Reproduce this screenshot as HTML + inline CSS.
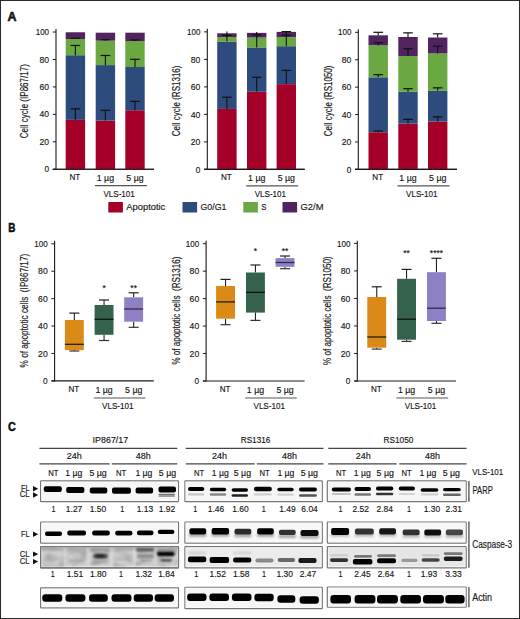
<!DOCTYPE html><html><head><meta charset="utf-8"><style>html,body{margin:0;padding:0;background:#fff;width:520px;height:619px;overflow:hidden}body{position:relative;font-family:"Liberation Sans", sans-serif}</style></head><body><svg width="520" height="619" viewBox="0 0 520 619" style="position:absolute;left:0;top:0;font-family:'Liberation Sans', sans-serif">
<defs><filter id="b1" x="-20%" y="-80%" width="140%" height="260%"><feGaussianBlur stdDeviation="0.65"/></filter><filter id="b2" x="-20%" y="-80%" width="140%" height="260%"><feGaussianBlur stdDeviation="1.1"/></filter><filter id="b3" x="-20%" y="-80%" width="140%" height="260%"><feGaussianBlur stdDeviation="1.6"/></filter></defs>
<rect x="0" y="0" width="520" height="619" fill="#fff"/>
<text x="7.50" y="20.60" font-size="12.8" text-anchor="start" textLength="9.0" lengthAdjust="spacingAndGlyphs" font-weight="bold" fill="#111" stroke="#111" stroke-width="0.55">A</text>
<line x1="56.00" y1="29.00" x2="56.00" y2="169.80" stroke="#1a1a1a" stroke-width="1.1"/>
<line x1="52.80" y1="169.30" x2="154.00" y2="169.30" stroke="#1a1a1a" stroke-width="1.1"/>
<line x1="52.80" y1="169.30" x2="56.00" y2="169.30" stroke="#1a1a1a" stroke-width="1.0"/>
<text x="49.10" y="172.40" font-size="9.6" text-anchor="end" textLength="4.6" lengthAdjust="spacingAndGlyphs" fill="#151515" stroke="#151515" stroke-width="0.15">0</text>
<line x1="52.80" y1="141.84" x2="56.00" y2="141.84" stroke="#1a1a1a" stroke-width="1.0"/>
<text x="49.10" y="144.94" font-size="9.6" text-anchor="end" textLength="9.6" lengthAdjust="spacingAndGlyphs" fill="#151515" stroke="#151515" stroke-width="0.15">20</text>
<line x1="52.80" y1="114.38" x2="56.00" y2="114.38" stroke="#1a1a1a" stroke-width="1.0"/>
<text x="49.10" y="117.48" font-size="9.6" text-anchor="end" textLength="9.6" lengthAdjust="spacingAndGlyphs" fill="#151515" stroke="#151515" stroke-width="0.15">40</text>
<line x1="52.80" y1="86.92" x2="56.00" y2="86.92" stroke="#1a1a1a" stroke-width="1.0"/>
<text x="49.10" y="90.02" font-size="9.6" text-anchor="end" textLength="9.6" lengthAdjust="spacingAndGlyphs" fill="#151515" stroke="#151515" stroke-width="0.15">60</text>
<line x1="52.80" y1="59.46" x2="56.00" y2="59.46" stroke="#1a1a1a" stroke-width="1.0"/>
<text x="49.10" y="62.56" font-size="9.6" text-anchor="end" textLength="9.6" lengthAdjust="spacingAndGlyphs" fill="#151515" stroke="#151515" stroke-width="0.15">80</text>
<line x1="52.80" y1="32.00" x2="56.00" y2="32.00" stroke="#1a1a1a" stroke-width="1.0"/>
<text x="49.10" y="35.10" font-size="9.6" text-anchor="end" textLength="13.4" lengthAdjust="spacingAndGlyphs" fill="#151515" stroke="#151515" stroke-width="0.15">100</text>
<rect x="65.70" y="119.87" width="19.40" height="49.43" fill="#a50028"/>
<rect x="65.70" y="55.20" width="19.40" height="64.67" fill="#2e4b7d"/>
<rect x="65.70" y="39.00" width="19.40" height="16.20" fill="#6aa842"/>
<rect x="65.70" y="32.27" width="19.40" height="6.73" fill="#52245f"/>
<line x1="75.40" y1="119.87" x2="75.40" y2="108.89" stroke="#111" stroke-width="1.1"/>
<line x1="70.60" y1="108.89" x2="80.20" y2="108.89" stroke="#111" stroke-width="1.2"/>
<line x1="75.40" y1="55.20" x2="75.40" y2="45.46" stroke="#111" stroke-width="1.1"/>
<line x1="70.60" y1="45.46" x2="80.20" y2="45.46" stroke="#111" stroke-width="1.2"/>
<line x1="75.40" y1="39.00" x2="75.40" y2="38.32" stroke="#111" stroke-width="1.1"/>
<line x1="70.60" y1="38.32" x2="80.20" y2="38.32" stroke="#111" stroke-width="1.2"/>
<rect x="95.70" y="120.56" width="19.40" height="48.74" fill="#a50028"/>
<rect x="95.70" y="65.09" width="19.40" height="55.47" fill="#2e4b7d"/>
<rect x="95.70" y="40.65" width="19.40" height="24.44" fill="#6aa842"/>
<rect x="95.70" y="32.69" width="19.40" height="7.96" fill="#52245f"/>
<line x1="105.40" y1="120.56" x2="105.40" y2="110.26" stroke="#111" stroke-width="1.1"/>
<line x1="100.60" y1="110.26" x2="110.20" y2="110.26" stroke="#111" stroke-width="1.2"/>
<line x1="105.40" y1="65.09" x2="105.40" y2="55.48" stroke="#111" stroke-width="1.1"/>
<line x1="100.60" y1="55.48" x2="110.20" y2="55.48" stroke="#111" stroke-width="1.2"/>
<line x1="105.40" y1="40.65" x2="105.40" y2="39.69" stroke="#111" stroke-width="1.1"/>
<line x1="100.60" y1="39.69" x2="110.20" y2="39.69" stroke="#111" stroke-width="1.2"/>
<rect x="125.30" y="110.26" width="19.40" height="59.04" fill="#a50028"/>
<rect x="125.30" y="67.01" width="19.40" height="43.25" fill="#2e4b7d"/>
<rect x="125.30" y="41.06" width="19.40" height="25.95" fill="#6aa842"/>
<rect x="125.30" y="32.69" width="19.40" height="8.38" fill="#52245f"/>
<line x1="135.00" y1="110.26" x2="135.00" y2="101.34" stroke="#111" stroke-width="1.1"/>
<line x1="130.20" y1="101.34" x2="139.80" y2="101.34" stroke="#111" stroke-width="1.2"/>
<line x1="135.00" y1="67.01" x2="135.00" y2="59.32" stroke="#111" stroke-width="1.1"/>
<line x1="130.20" y1="59.32" x2="139.80" y2="59.32" stroke="#111" stroke-width="1.2"/>
<line x1="135.00" y1="41.06" x2="135.00" y2="39.96" stroke="#111" stroke-width="1.1"/>
<line x1="130.20" y1="39.96" x2="139.80" y2="39.96" stroke="#111" stroke-width="1.2"/>
<line x1="52.80" y1="169.30" x2="154.00" y2="169.30" stroke="#1a1a1a" stroke-width="1.1"/>
<text x="74.90" y="180.10" font-size="9.2" text-anchor="middle" textLength="10.8" lengthAdjust="spacingAndGlyphs" fill="#151515" stroke="#151515" stroke-width="0.15">NT</text>
<text x="105.40" y="180.60" font-size="9.4" text-anchor="middle" textLength="17.3" lengthAdjust="spacingAndGlyphs" fill="#151515" stroke="#151515" stroke-width="0.15">1 µg</text>
<text x="135.00" y="180.60" font-size="9.4" text-anchor="middle" textLength="17.3" lengthAdjust="spacingAndGlyphs" fill="#151515" stroke="#151515" stroke-width="0.15">5 µg</text>
<line x1="94.90" y1="185.60" x2="146.90" y2="185.60" stroke="#555" stroke-width="1.2"/>
<text x="119.10" y="196.60" font-size="9.5" text-anchor="middle" textLength="31.4" lengthAdjust="spacingAndGlyphs" fill="#151515" stroke="#151515" stroke-width="0.15">VLS-101</text>
<text transform="translate(28.40,101.20) rotate(-90)" x="0" y="0" font-size="10.5" text-anchor="middle" textLength="74.2" lengthAdjust="spacingAndGlyphs" fill="#151515" stroke="#151515" stroke-width="0.15">Cell cycle (IP867/17)</text>
<line x1="207.30" y1="28.80" x2="207.30" y2="169.90" stroke="#1a1a1a" stroke-width="1.1"/>
<line x1="204.10" y1="169.40" x2="304.60" y2="169.40" stroke="#1a1a1a" stroke-width="1.1"/>
<line x1="204.10" y1="169.40" x2="207.30" y2="169.40" stroke="#1a1a1a" stroke-width="1.0"/>
<text x="200.40" y="172.50" font-size="9.6" text-anchor="end" textLength="4.6" lengthAdjust="spacingAndGlyphs" fill="#151515" stroke="#151515" stroke-width="0.15">0</text>
<line x1="204.10" y1="141.90" x2="207.30" y2="141.90" stroke="#1a1a1a" stroke-width="1.0"/>
<text x="200.40" y="145.00" font-size="9.6" text-anchor="end" textLength="9.6" lengthAdjust="spacingAndGlyphs" fill="#151515" stroke="#151515" stroke-width="0.15">20</text>
<line x1="204.10" y1="114.40" x2="207.30" y2="114.40" stroke="#1a1a1a" stroke-width="1.0"/>
<text x="200.40" y="117.50" font-size="9.6" text-anchor="end" textLength="9.6" lengthAdjust="spacingAndGlyphs" fill="#151515" stroke="#151515" stroke-width="0.15">40</text>
<line x1="204.10" y1="86.90" x2="207.30" y2="86.90" stroke="#1a1a1a" stroke-width="1.0"/>
<text x="200.40" y="90.00" font-size="9.6" text-anchor="end" textLength="9.6" lengthAdjust="spacingAndGlyphs" fill="#151515" stroke="#151515" stroke-width="0.15">60</text>
<line x1="204.10" y1="59.40" x2="207.30" y2="59.40" stroke="#1a1a1a" stroke-width="1.0"/>
<text x="200.40" y="62.50" font-size="9.6" text-anchor="end" textLength="9.6" lengthAdjust="spacingAndGlyphs" fill="#151515" stroke="#151515" stroke-width="0.15">80</text>
<line x1="204.10" y1="31.90" x2="207.30" y2="31.90" stroke="#1a1a1a" stroke-width="1.0"/>
<text x="200.40" y="35.00" font-size="9.6" text-anchor="end" textLength="13.4" lengthAdjust="spacingAndGlyphs" fill="#151515" stroke="#151515" stroke-width="0.15">100</text>
<rect x="217.20" y="108.90" width="19.40" height="60.50" fill="#a50028"/>
<rect x="217.20" y="41.53" width="19.40" height="67.38" fill="#2e4b7d"/>
<rect x="217.20" y="36.99" width="19.40" height="4.54" fill="#6aa842"/>
<rect x="217.20" y="33.28" width="19.40" height="3.71" fill="#52245f"/>
<line x1="226.90" y1="108.90" x2="226.90" y2="97.21" stroke="#111" stroke-width="1.1"/>
<line x1="222.10" y1="97.21" x2="231.70" y2="97.21" stroke="#111" stroke-width="1.2"/>
<line x1="226.90" y1="41.53" x2="226.90" y2="31.62" stroke="#111" stroke-width="1.1"/>
<line x1="226.90" y1="36.99" x2="226.90" y2="35.34" stroke="#111" stroke-width="1.1"/>
<line x1="222.10" y1="35.34" x2="231.70" y2="35.34" stroke="#111" stroke-width="1.2"/>
<rect x="247.00" y="91.71" width="19.40" height="77.69" fill="#a50028"/>
<rect x="247.00" y="47.44" width="19.40" height="44.28" fill="#2e4b7d"/>
<rect x="247.00" y="37.54" width="19.40" height="9.90" fill="#6aa842"/>
<rect x="247.00" y="32.86" width="19.40" height="4.67" fill="#52245f"/>
<line x1="256.70" y1="91.71" x2="256.70" y2="77.28" stroke="#111" stroke-width="1.1"/>
<line x1="251.90" y1="77.28" x2="261.50" y2="77.28" stroke="#111" stroke-width="1.2"/>
<line x1="256.70" y1="47.44" x2="256.70" y2="31.90" stroke="#111" stroke-width="1.1"/>
<line x1="256.70" y1="37.54" x2="256.70" y2="34.93" stroke="#111" stroke-width="1.1"/>
<line x1="251.90" y1="34.93" x2="261.50" y2="34.93" stroke="#111" stroke-width="1.2"/>
<rect x="276.60" y="84.15" width="19.40" height="85.25" fill="#a50028"/>
<rect x="276.60" y="46.20" width="19.40" height="37.95" fill="#2e4b7d"/>
<rect x="276.60" y="36.99" width="19.40" height="9.21" fill="#6aa842"/>
<rect x="276.60" y="31.90" width="19.40" height="5.09" fill="#52245f"/>
<line x1="286.30" y1="84.15" x2="286.30" y2="70.40" stroke="#111" stroke-width="1.1"/>
<line x1="281.50" y1="70.40" x2="291.10" y2="70.40" stroke="#111" stroke-width="1.2"/>
<line x1="286.30" y1="46.20" x2="286.30" y2="31.62" stroke="#111" stroke-width="1.1"/>
<line x1="281.50" y1="31.62" x2="291.10" y2="31.62" stroke="#111" stroke-width="1.2"/>
<line x1="286.30" y1="36.99" x2="286.30" y2="35.20" stroke="#111" stroke-width="1.1"/>
<line x1="281.50" y1="35.20" x2="291.10" y2="35.20" stroke="#111" stroke-width="1.2"/>
<line x1="204.10" y1="169.40" x2="304.60" y2="169.40" stroke="#1a1a1a" stroke-width="1.1"/>
<text x="226.40" y="180.10" font-size="9.2" text-anchor="middle" textLength="10.8" lengthAdjust="spacingAndGlyphs" fill="#151515" stroke="#151515" stroke-width="0.15">NT</text>
<text x="256.70" y="180.60" font-size="9.4" text-anchor="middle" textLength="17.3" lengthAdjust="spacingAndGlyphs" fill="#151515" stroke="#151515" stroke-width="0.15">1 µg</text>
<text x="286.30" y="180.60" font-size="9.4" text-anchor="middle" textLength="17.3" lengthAdjust="spacingAndGlyphs" fill="#151515" stroke="#151515" stroke-width="0.15">5 µg</text>
<line x1="246.20" y1="185.80" x2="298.20" y2="185.80" stroke="#555" stroke-width="1.2"/>
<text x="270.40" y="196.60" font-size="9.5" text-anchor="middle" textLength="31.4" lengthAdjust="spacingAndGlyphs" fill="#151515" stroke="#151515" stroke-width="0.15">VLS-101</text>
<text transform="translate(180.30,100.90) rotate(-90)" x="0" y="0" font-size="10.5" text-anchor="middle" textLength="70.7" lengthAdjust="spacingAndGlyphs" fill="#151515" stroke="#151515" stroke-width="0.15">Cell cycle (RS1316)</text>
<line x1="358.30" y1="29.20" x2="358.30" y2="169.90" stroke="#1a1a1a" stroke-width="1.1"/>
<line x1="355.10" y1="169.40" x2="457.00" y2="169.40" stroke="#1a1a1a" stroke-width="1.1"/>
<line x1="355.10" y1="169.40" x2="358.30" y2="169.40" stroke="#1a1a1a" stroke-width="1.0"/>
<text x="351.40" y="172.50" font-size="9.6" text-anchor="end" textLength="4.6" lengthAdjust="spacingAndGlyphs" fill="#151515" stroke="#151515" stroke-width="0.15">0</text>
<line x1="355.10" y1="141.98" x2="358.30" y2="141.98" stroke="#1a1a1a" stroke-width="1.0"/>
<text x="351.40" y="145.08" font-size="9.6" text-anchor="end" textLength="9.6" lengthAdjust="spacingAndGlyphs" fill="#151515" stroke="#151515" stroke-width="0.15">20</text>
<line x1="355.10" y1="114.56" x2="358.30" y2="114.56" stroke="#1a1a1a" stroke-width="1.0"/>
<text x="351.40" y="117.66" font-size="9.6" text-anchor="end" textLength="9.6" lengthAdjust="spacingAndGlyphs" fill="#151515" stroke="#151515" stroke-width="0.15">40</text>
<line x1="355.10" y1="87.14" x2="358.30" y2="87.14" stroke="#1a1a1a" stroke-width="1.0"/>
<text x="351.40" y="90.24" font-size="9.6" text-anchor="end" textLength="9.6" lengthAdjust="spacingAndGlyphs" fill="#151515" stroke="#151515" stroke-width="0.15">60</text>
<line x1="355.10" y1="59.72" x2="358.30" y2="59.72" stroke="#1a1a1a" stroke-width="1.0"/>
<text x="351.40" y="62.82" font-size="9.6" text-anchor="end" textLength="9.6" lengthAdjust="spacingAndGlyphs" fill="#151515" stroke="#151515" stroke-width="0.15">80</text>
<line x1="355.10" y1="32.30" x2="358.30" y2="32.30" stroke="#1a1a1a" stroke-width="1.0"/>
<text x="351.40" y="35.40" font-size="9.6" text-anchor="end" textLength="13.4" lengthAdjust="spacingAndGlyphs" fill="#151515" stroke="#151515" stroke-width="0.15">100</text>
<rect x="368.50" y="132.25" width="19.40" height="37.15" fill="#a50028"/>
<rect x="368.50" y="77.27" width="19.40" height="54.98" fill="#2e4b7d"/>
<rect x="368.50" y="45.32" width="19.40" height="31.94" fill="#6aa842"/>
<rect x="368.50" y="35.32" width="19.40" height="10.01" fill="#52245f"/>
<line x1="378.20" y1="132.25" x2="378.20" y2="131.01" stroke="#111" stroke-width="1.1"/>
<line x1="373.40" y1="131.01" x2="383.00" y2="131.01" stroke="#111" stroke-width="1.2"/>
<line x1="378.20" y1="77.27" x2="378.20" y2="74.66" stroke="#111" stroke-width="1.1"/>
<line x1="373.40" y1="74.66" x2="383.00" y2="74.66" stroke="#111" stroke-width="1.2"/>
<line x1="378.20" y1="45.32" x2="378.20" y2="42.72" stroke="#111" stroke-width="1.1"/>
<line x1="373.40" y1="42.72" x2="383.00" y2="42.72" stroke="#111" stroke-width="1.2"/>
<line x1="378.20" y1="35.32" x2="378.20" y2="32.30" stroke="#111" stroke-width="1.1"/>
<line x1="373.40" y1="32.30" x2="383.00" y2="32.30" stroke="#111" stroke-width="1.2"/>
<rect x="398.30" y="123.61" width="19.40" height="45.79" fill="#a50028"/>
<rect x="398.30" y="91.80" width="19.40" height="31.81" fill="#2e4b7d"/>
<rect x="398.30" y="56.02" width="19.40" height="35.78" fill="#6aa842"/>
<rect x="398.30" y="36.96" width="19.40" height="19.06" fill="#52245f"/>
<line x1="408.00" y1="123.61" x2="408.00" y2="119.36" stroke="#111" stroke-width="1.1"/>
<line x1="403.20" y1="119.36" x2="412.80" y2="119.36" stroke="#111" stroke-width="1.2"/>
<line x1="408.00" y1="91.80" x2="408.00" y2="88.65" stroke="#111" stroke-width="1.1"/>
<line x1="403.20" y1="88.65" x2="412.80" y2="88.65" stroke="#111" stroke-width="1.2"/>
<line x1="408.00" y1="56.02" x2="408.00" y2="48.75" stroke="#111" stroke-width="1.1"/>
<line x1="403.20" y1="48.75" x2="412.80" y2="48.75" stroke="#111" stroke-width="1.2"/>
<line x1="408.00" y1="36.96" x2="408.00" y2="32.85" stroke="#111" stroke-width="1.1"/>
<line x1="403.20" y1="32.85" x2="412.80" y2="32.85" stroke="#111" stroke-width="1.2"/>
<rect x="428.00" y="121.55" width="19.40" height="47.85" fill="#a50028"/>
<rect x="428.00" y="90.84" width="19.40" height="30.71" fill="#2e4b7d"/>
<rect x="428.00" y="53.41" width="19.40" height="37.43" fill="#6aa842"/>
<rect x="428.00" y="37.51" width="19.40" height="15.90" fill="#52245f"/>
<line x1="437.70" y1="121.55" x2="437.70" y2="116.89" stroke="#111" stroke-width="1.1"/>
<line x1="432.90" y1="116.89" x2="442.50" y2="116.89" stroke="#111" stroke-width="1.2"/>
<line x1="437.70" y1="90.84" x2="437.70" y2="87.83" stroke="#111" stroke-width="1.1"/>
<line x1="432.90" y1="87.83" x2="442.50" y2="87.83" stroke="#111" stroke-width="1.2"/>
<line x1="437.70" y1="53.41" x2="437.70" y2="46.15" stroke="#111" stroke-width="1.1"/>
<line x1="432.90" y1="46.15" x2="442.50" y2="46.15" stroke="#111" stroke-width="1.2"/>
<line x1="437.70" y1="37.51" x2="437.70" y2="33.81" stroke="#111" stroke-width="1.1"/>
<line x1="432.90" y1="33.81" x2="442.50" y2="33.81" stroke="#111" stroke-width="1.2"/>
<line x1="355.10" y1="169.40" x2="457.00" y2="169.40" stroke="#1a1a1a" stroke-width="1.1"/>
<text x="377.70" y="180.10" font-size="9.2" text-anchor="middle" textLength="10.8" lengthAdjust="spacingAndGlyphs" fill="#151515" stroke="#151515" stroke-width="0.15">NT</text>
<text x="408.00" y="180.60" font-size="9.4" text-anchor="middle" textLength="17.3" lengthAdjust="spacingAndGlyphs" fill="#151515" stroke="#151515" stroke-width="0.15">1 µg</text>
<text x="437.70" y="180.60" font-size="9.4" text-anchor="middle" textLength="17.3" lengthAdjust="spacingAndGlyphs" fill="#151515" stroke="#151515" stroke-width="0.15">5 µg</text>
<line x1="397.50" y1="185.80" x2="449.60" y2="185.80" stroke="#555" stroke-width="1.2"/>
<text x="421.75" y="196.60" font-size="9.5" text-anchor="middle" textLength="31.4" lengthAdjust="spacingAndGlyphs" fill="#151515" stroke="#151515" stroke-width="0.15">VLS-101</text>
<text transform="translate(331.70,100.90) rotate(-90)" x="0" y="0" font-size="10.5" text-anchor="middle" textLength="70.7" lengthAdjust="spacingAndGlyphs" fill="#151515" stroke="#151515" stroke-width="0.15">Cell cycle (RS1050)</text>
<rect x="108.30" y="202.00" width="14.60" height="10.50" fill="#a50028"/>
<text x="126.30" y="209.80" font-size="9.8" text-anchor="start" textLength="39.0" lengthAdjust="spacingAndGlyphs" fill="#151515" stroke="#151515" stroke-width="0.15">Apoptotic</text>
<rect x="182.50" y="202.00" width="14.60" height="10.50" fill="#2e4b7d"/>
<text x="200.50" y="209.80" font-size="9.8" text-anchor="start" textLength="26.0" lengthAdjust="spacingAndGlyphs" fill="#151515" stroke="#151515" stroke-width="0.15">G0/G1</text>
<rect x="243.30" y="202.00" width="14.60" height="10.50" fill="#6aa842"/>
<text x="261.30" y="209.80" font-size="9.8" text-anchor="start" textLength="5.2" lengthAdjust="spacingAndGlyphs" fill="#151515" stroke="#151515" stroke-width="0.15">S</text>
<rect x="282.50" y="202.00" width="14.60" height="10.50" fill="#52245f"/>
<text x="300.50" y="209.80" font-size="9.8" text-anchor="start" textLength="23.0" lengthAdjust="spacingAndGlyphs" fill="#151515" stroke="#151515" stroke-width="0.15">G2/M</text>
<text x="8.30" y="232.40" font-size="12.6" text-anchor="start" textLength="7.2" lengthAdjust="spacingAndGlyphs" font-weight="bold" fill="#111" stroke="#111" stroke-width="0.55">B</text>
<line x1="54.60" y1="240.80" x2="54.60" y2="381.40" stroke="#1a1a1a" stroke-width="1.1"/>
<line x1="51.40" y1="380.90" x2="153.80" y2="380.90" stroke="#1a1a1a" stroke-width="1.1"/>
<line x1="51.40" y1="380.90" x2="54.60" y2="380.90" stroke="#1a1a1a" stroke-width="1.0"/>
<text x="47.70" y="384.00" font-size="9.6" text-anchor="end" textLength="4.6" lengthAdjust="spacingAndGlyphs" fill="#151515" stroke="#151515" stroke-width="0.15">0</text>
<line x1="51.40" y1="353.48" x2="54.60" y2="353.48" stroke="#1a1a1a" stroke-width="1.0"/>
<text x="47.70" y="356.58" font-size="9.6" text-anchor="end" textLength="9.6" lengthAdjust="spacingAndGlyphs" fill="#151515" stroke="#151515" stroke-width="0.15">20</text>
<line x1="51.40" y1="326.06" x2="54.60" y2="326.06" stroke="#1a1a1a" stroke-width="1.0"/>
<text x="47.70" y="329.16" font-size="9.6" text-anchor="end" textLength="9.6" lengthAdjust="spacingAndGlyphs" fill="#151515" stroke="#151515" stroke-width="0.15">40</text>
<line x1="51.40" y1="298.64" x2="54.60" y2="298.64" stroke="#1a1a1a" stroke-width="1.0"/>
<text x="47.70" y="301.74" font-size="9.6" text-anchor="end" textLength="9.6" lengthAdjust="spacingAndGlyphs" fill="#151515" stroke="#151515" stroke-width="0.15">60</text>
<line x1="51.40" y1="271.22" x2="54.60" y2="271.22" stroke="#1a1a1a" stroke-width="1.0"/>
<text x="47.70" y="274.32" font-size="9.6" text-anchor="end" textLength="9.6" lengthAdjust="spacingAndGlyphs" fill="#151515" stroke="#151515" stroke-width="0.15">80</text>
<line x1="51.40" y1="243.80" x2="54.60" y2="243.80" stroke="#1a1a1a" stroke-width="1.0"/>
<text x="47.70" y="246.90" font-size="9.6" text-anchor="end" textLength="13.4" lengthAdjust="spacingAndGlyphs" fill="#151515" stroke="#151515" stroke-width="0.15">100</text>
<line x1="74.35" y1="313.10" x2="74.35" y2="320.00" stroke="#222" stroke-width="1.1"/>
<line x1="74.35" y1="350.10" x2="74.35" y2="351.00" stroke="#222" stroke-width="1.1"/>
<line x1="69.35" y1="313.10" x2="79.35" y2="313.10" stroke="#222" stroke-width="1.2"/>
<line x1="69.35" y1="351.00" x2="79.35" y2="351.00" stroke="#333" stroke-width="1.2"/>
<rect x="64.90" y="320.00" width="18.90" height="30.10" fill="#db8a18"/>
<line x1="64.90" y1="344.30" x2="83.80" y2="344.30" stroke="#1a1a1a" stroke-width="1.25"/>
<line x1="104.05" y1="300.00" x2="104.05" y2="305.00" stroke="#222" stroke-width="1.1"/>
<line x1="104.05" y1="334.80" x2="104.05" y2="340.50" stroke="#222" stroke-width="1.1"/>
<line x1="99.05" y1="300.00" x2="109.05" y2="300.00" stroke="#222" stroke-width="1.2"/>
<line x1="99.05" y1="340.50" x2="109.05" y2="340.50" stroke="#333" stroke-width="1.2"/>
<rect x="94.60" y="305.00" width="18.90" height="29.80" fill="#34624c"/>
<line x1="94.60" y1="319.30" x2="113.50" y2="319.30" stroke="#111" stroke-width="1.25"/>
<line x1="133.65" y1="292.80" x2="133.65" y2="297.30" stroke="#222" stroke-width="1.1"/>
<line x1="133.65" y1="321.70" x2="133.65" y2="327.30" stroke="#222" stroke-width="1.1"/>
<line x1="128.65" y1="292.80" x2="138.65" y2="292.80" stroke="#222" stroke-width="1.2"/>
<line x1="128.65" y1="327.30" x2="138.65" y2="327.30" stroke="#333" stroke-width="1.2"/>
<rect x="124.20" y="297.30" width="18.90" height="24.40" fill="#8d80c4"/>
<line x1="124.20" y1="309.00" x2="143.10" y2="309.00" stroke="#2e2845" stroke-width="1.25"/>
<text x="104.05" y="291.00" font-size="8.5" text-anchor="middle" fill="#151515" stroke="#151515" stroke-width="0.15">*</text>
<text x="133.65" y="291.00" font-size="8.5" text-anchor="middle" fill="#151515" stroke="#151515" stroke-width="0.15">**</text>
<text x="73.90" y="392.00" font-size="9.2" text-anchor="middle" textLength="10.8" lengthAdjust="spacingAndGlyphs" fill="#151515" stroke="#151515" stroke-width="0.15">NT</text>
<text x="104.10" y="392.50" font-size="9.4" text-anchor="middle" textLength="17.3" lengthAdjust="spacingAndGlyphs" fill="#151515" stroke="#151515" stroke-width="0.15">1 µg</text>
<text x="133.70" y="392.50" font-size="9.4" text-anchor="middle" textLength="17.3" lengthAdjust="spacingAndGlyphs" fill="#151515" stroke="#151515" stroke-width="0.15">5 µg</text>
<line x1="93.80" y1="398.00" x2="145.40" y2="398.00" stroke="#555" stroke-width="1.2"/>
<text x="117.80" y="408.50" font-size="9.5" text-anchor="middle" textLength="31.4" lengthAdjust="spacingAndGlyphs" fill="#151515" stroke="#151515" stroke-width="0.15">VLS-101</text>
<text transform="translate(27.60,310.60) rotate(-90)" x="0" y="0" font-size="10.6" text-anchor="middle" textLength="113.6" lengthAdjust="spacingAndGlyphs" fill="#151515" stroke="#151515" stroke-width="0.15">% of apoptotic cells&#160; (IP867/17)</text>
<line x1="206.10" y1="240.80" x2="206.10" y2="381.50" stroke="#1a1a1a" stroke-width="1.1"/>
<line x1="202.90" y1="381.00" x2="304.60" y2="381.00" stroke="#1a1a1a" stroke-width="1.1"/>
<line x1="202.90" y1="381.00" x2="206.10" y2="381.00" stroke="#1a1a1a" stroke-width="1.0"/>
<text x="199.20" y="384.10" font-size="9.6" text-anchor="end" textLength="4.6" lengthAdjust="spacingAndGlyphs" fill="#151515" stroke="#151515" stroke-width="0.15">0</text>
<line x1="202.90" y1="353.54" x2="206.10" y2="353.54" stroke="#1a1a1a" stroke-width="1.0"/>
<text x="199.20" y="356.64" font-size="9.6" text-anchor="end" textLength="9.6" lengthAdjust="spacingAndGlyphs" fill="#151515" stroke="#151515" stroke-width="0.15">20</text>
<line x1="202.90" y1="326.08" x2="206.10" y2="326.08" stroke="#1a1a1a" stroke-width="1.0"/>
<text x="199.20" y="329.18" font-size="9.6" text-anchor="end" textLength="9.6" lengthAdjust="spacingAndGlyphs" fill="#151515" stroke="#151515" stroke-width="0.15">40</text>
<line x1="202.90" y1="298.62" x2="206.10" y2="298.62" stroke="#1a1a1a" stroke-width="1.0"/>
<text x="199.20" y="301.72" font-size="9.6" text-anchor="end" textLength="9.6" lengthAdjust="spacingAndGlyphs" fill="#151515" stroke="#151515" stroke-width="0.15">60</text>
<line x1="202.90" y1="271.16" x2="206.10" y2="271.16" stroke="#1a1a1a" stroke-width="1.0"/>
<text x="199.20" y="274.26" font-size="9.6" text-anchor="end" textLength="9.6" lengthAdjust="spacingAndGlyphs" fill="#151515" stroke="#151515" stroke-width="0.15">80</text>
<line x1="202.90" y1="243.70" x2="206.10" y2="243.70" stroke="#1a1a1a" stroke-width="1.0"/>
<text x="199.20" y="246.80" font-size="9.6" text-anchor="end" textLength="13.4" lengthAdjust="spacingAndGlyphs" fill="#151515" stroke="#151515" stroke-width="0.15">100</text>
<line x1="225.55" y1="279.40" x2="225.55" y2="286.00" stroke="#222" stroke-width="1.1"/>
<line x1="225.55" y1="318.70" x2="225.55" y2="324.70" stroke="#222" stroke-width="1.1"/>
<line x1="220.55" y1="279.40" x2="230.55" y2="279.40" stroke="#222" stroke-width="1.2"/>
<line x1="220.55" y1="324.70" x2="230.55" y2="324.70" stroke="#333" stroke-width="1.2"/>
<rect x="216.10" y="286.00" width="18.90" height="32.70" fill="#db8a18"/>
<line x1="216.10" y1="301.90" x2="235.00" y2="301.90" stroke="#1a1a1a" stroke-width="1.25"/>
<line x1="255.45" y1="265.00" x2="255.45" y2="272.50" stroke="#222" stroke-width="1.1"/>
<line x1="255.45" y1="312.60" x2="255.45" y2="320.40" stroke="#222" stroke-width="1.1"/>
<line x1="250.45" y1="265.00" x2="260.45" y2="265.00" stroke="#222" stroke-width="1.2"/>
<line x1="250.45" y1="320.40" x2="260.45" y2="320.40" stroke="#333" stroke-width="1.2"/>
<rect x="246.00" y="272.50" width="18.90" height="40.10" fill="#34624c"/>
<line x1="246.00" y1="292.40" x2="264.90" y2="292.40" stroke="#111" stroke-width="1.25"/>
<line x1="285.05" y1="256.00" x2="285.05" y2="258.10" stroke="#222" stroke-width="1.1"/>
<line x1="285.05" y1="266.80" x2="285.05" y2="268.70" stroke="#222" stroke-width="1.1"/>
<line x1="280.05" y1="256.00" x2="290.05" y2="256.00" stroke="#222" stroke-width="1.2"/>
<line x1="280.05" y1="268.70" x2="290.05" y2="268.70" stroke="#333" stroke-width="1.2"/>
<rect x="275.60" y="258.10" width="18.90" height="8.70" fill="#8d80c4"/>
<line x1="275.60" y1="262.50" x2="294.50" y2="262.50" stroke="#2e2845" stroke-width="1.25"/>
<text x="255.45" y="254.40" font-size="8.5" text-anchor="middle" fill="#151515" stroke="#151515" stroke-width="0.15">*</text>
<text x="285.05" y="254.40" font-size="8.5" text-anchor="middle" fill="#151515" stroke="#151515" stroke-width="0.15">**</text>
<text x="225.10" y="392.00" font-size="9.2" text-anchor="middle" textLength="10.8" lengthAdjust="spacingAndGlyphs" fill="#151515" stroke="#151515" stroke-width="0.15">NT</text>
<text x="255.50" y="392.50" font-size="9.4" text-anchor="middle" textLength="17.3" lengthAdjust="spacingAndGlyphs" fill="#151515" stroke="#151515" stroke-width="0.15">1 µg</text>
<text x="285.10" y="392.50" font-size="9.4" text-anchor="middle" textLength="17.3" lengthAdjust="spacingAndGlyphs" fill="#151515" stroke="#151515" stroke-width="0.15">5 µg</text>
<line x1="245.20" y1="398.00" x2="296.80" y2="398.00" stroke="#555" stroke-width="1.2"/>
<text x="269.20" y="408.50" font-size="9.5" text-anchor="middle" textLength="31.4" lengthAdjust="spacingAndGlyphs" fill="#151515" stroke="#151515" stroke-width="0.15">VLS-101</text>
<text transform="translate(179.80,310.60) rotate(-90)" x="0" y="0" font-size="10.6" text-anchor="middle" textLength="108.0" lengthAdjust="spacingAndGlyphs" fill="#151515" stroke="#151515" stroke-width="0.15">% of apoptotic cells&#160; (RS1316)</text>
<line x1="357.30" y1="240.80" x2="357.30" y2="381.50" stroke="#1a1a1a" stroke-width="1.1"/>
<line x1="354.10" y1="381.00" x2="456.00" y2="381.00" stroke="#1a1a1a" stroke-width="1.1"/>
<line x1="354.10" y1="381.00" x2="357.30" y2="381.00" stroke="#1a1a1a" stroke-width="1.0"/>
<text x="350.40" y="384.10" font-size="9.6" text-anchor="end" textLength="4.6" lengthAdjust="spacingAndGlyphs" fill="#151515" stroke="#151515" stroke-width="0.15">0</text>
<line x1="354.10" y1="353.48" x2="357.30" y2="353.48" stroke="#1a1a1a" stroke-width="1.0"/>
<text x="350.40" y="356.58" font-size="9.6" text-anchor="end" textLength="9.6" lengthAdjust="spacingAndGlyphs" fill="#151515" stroke="#151515" stroke-width="0.15">20</text>
<line x1="354.10" y1="325.96" x2="357.30" y2="325.96" stroke="#1a1a1a" stroke-width="1.0"/>
<text x="350.40" y="329.06" font-size="9.6" text-anchor="end" textLength="9.6" lengthAdjust="spacingAndGlyphs" fill="#151515" stroke="#151515" stroke-width="0.15">40</text>
<line x1="354.10" y1="298.44" x2="357.30" y2="298.44" stroke="#1a1a1a" stroke-width="1.0"/>
<text x="350.40" y="301.54" font-size="9.6" text-anchor="end" textLength="9.6" lengthAdjust="spacingAndGlyphs" fill="#151515" stroke="#151515" stroke-width="0.15">60</text>
<line x1="354.10" y1="270.92" x2="357.30" y2="270.92" stroke="#1a1a1a" stroke-width="1.0"/>
<text x="350.40" y="274.02" font-size="9.6" text-anchor="end" textLength="9.6" lengthAdjust="spacingAndGlyphs" fill="#151515" stroke="#151515" stroke-width="0.15">80</text>
<line x1="354.10" y1="243.40" x2="357.30" y2="243.40" stroke="#1a1a1a" stroke-width="1.0"/>
<text x="350.40" y="246.50" font-size="9.6" text-anchor="end" textLength="13.4" lengthAdjust="spacingAndGlyphs" fill="#151515" stroke="#151515" stroke-width="0.15">100</text>
<line x1="376.75" y1="286.80" x2="376.75" y2="297.00" stroke="#222" stroke-width="1.1"/>
<line x1="376.75" y1="347.70" x2="376.75" y2="349.10" stroke="#222" stroke-width="1.1"/>
<line x1="371.75" y1="286.80" x2="381.75" y2="286.80" stroke="#222" stroke-width="1.2"/>
<line x1="371.75" y1="349.10" x2="381.75" y2="349.10" stroke="#333" stroke-width="1.2"/>
<rect x="367.30" y="297.00" width="18.90" height="50.70" fill="#db8a18"/>
<line x1="367.30" y1="337.00" x2="386.20" y2="337.00" stroke="#1a1a1a" stroke-width="1.25"/>
<line x1="406.55" y1="269.40" x2="406.55" y2="278.80" stroke="#222" stroke-width="1.1"/>
<line x1="406.55" y1="339.70" x2="406.55" y2="341.40" stroke="#222" stroke-width="1.1"/>
<line x1="401.55" y1="269.40" x2="411.55" y2="269.40" stroke="#222" stroke-width="1.2"/>
<line x1="401.55" y1="341.40" x2="411.55" y2="341.40" stroke="#333" stroke-width="1.2"/>
<rect x="397.10" y="278.80" width="18.90" height="60.90" fill="#34624c"/>
<line x1="397.10" y1="319.20" x2="416.00" y2="319.20" stroke="#111" stroke-width="1.25"/>
<line x1="436.45" y1="258.30" x2="436.45" y2="272.20" stroke="#222" stroke-width="1.1"/>
<line x1="436.45" y1="321.00" x2="436.45" y2="323.30" stroke="#222" stroke-width="1.1"/>
<line x1="431.45" y1="258.30" x2="441.45" y2="258.30" stroke="#222" stroke-width="1.2"/>
<line x1="431.45" y1="323.30" x2="441.45" y2="323.30" stroke="#333" stroke-width="1.2"/>
<rect x="427.00" y="272.20" width="18.90" height="48.80" fill="#8d80c4"/>
<line x1="427.00" y1="308.20" x2="445.90" y2="308.20" stroke="#2e2845" stroke-width="1.25"/>
<text x="406.55" y="256.20" font-size="8.5" text-anchor="middle" fill="#151515" stroke="#151515" stroke-width="0.15">**</text>
<text x="436.45" y="256.20" font-size="8.5" text-anchor="middle" fill="#151515" stroke="#151515" stroke-width="0.15">****</text>
<text x="376.30" y="392.00" font-size="9.2" text-anchor="middle" textLength="10.8" lengthAdjust="spacingAndGlyphs" fill="#151515" stroke="#151515" stroke-width="0.15">NT</text>
<text x="406.60" y="392.50" font-size="9.4" text-anchor="middle" textLength="17.3" lengthAdjust="spacingAndGlyphs" fill="#151515" stroke="#151515" stroke-width="0.15">1 µg</text>
<text x="436.50" y="392.50" font-size="9.4" text-anchor="middle" textLength="17.3" lengthAdjust="spacingAndGlyphs" fill="#151515" stroke="#151515" stroke-width="0.15">5 µg</text>
<line x1="396.30" y1="398.00" x2="448.20" y2="398.00" stroke="#555" stroke-width="1.2"/>
<text x="420.45" y="408.50" font-size="9.5" text-anchor="middle" textLength="31.4" lengthAdjust="spacingAndGlyphs" fill="#151515" stroke="#151515" stroke-width="0.15">VLS-101</text>
<text transform="translate(331.10,310.70) rotate(-90)" x="0" y="0" font-size="10.6" text-anchor="middle" textLength="108.5" lengthAdjust="spacingAndGlyphs" fill="#151515" stroke="#151515" stroke-width="0.15">% of apoptotic cells&#160; (RS1050)</text>
<text x="8.00" y="430.90" font-size="12.6" text-anchor="start" textLength="7.8" lengthAdjust="spacingAndGlyphs" font-weight="bold" fill="#111" stroke="#111" stroke-width="0.55">C</text>
<text x="110.40" y="443.00" font-size="8.6" text-anchor="middle" textLength="35.6" lengthAdjust="spacingAndGlyphs" fill="#151515" stroke="#151515" stroke-width="0.15">IP867/17</text>
<text x="255.50" y="443.00" font-size="8.6" text-anchor="middle" textLength="29.5" lengthAdjust="spacingAndGlyphs" fill="#151515" stroke="#151515" stroke-width="0.15">RS1316</text>
<text x="398.40" y="443.00" font-size="8.6" text-anchor="middle" textLength="30.0" lengthAdjust="spacingAndGlyphs" fill="#151515" stroke="#151515" stroke-width="0.15">RS1050</text>
<line x1="39.40" y1="448.30" x2="177.30" y2="448.30" stroke="#444" stroke-width="1.3"/>
<line x1="185.70" y1="448.30" x2="323.50" y2="448.30" stroke="#444" stroke-width="1.3"/>
<line x1="328.30" y1="448.30" x2="466.50" y2="448.30" stroke="#444" stroke-width="1.3"/>
<text x="74.20" y="458.80" font-size="8.6" text-anchor="middle" textLength="15.0" lengthAdjust="spacingAndGlyphs" fill="#151515" stroke="#151515" stroke-width="0.15">24h</text>
<text x="143.20" y="458.80" font-size="8.6" text-anchor="middle" textLength="15.0" lengthAdjust="spacingAndGlyphs" fill="#151515" stroke="#151515" stroke-width="0.15">48h</text>
<text x="219.50" y="458.80" font-size="8.6" text-anchor="middle" textLength="15.0" lengthAdjust="spacingAndGlyphs" fill="#151515" stroke="#151515" stroke-width="0.15">24h</text>
<text x="289.50" y="458.80" font-size="8.6" text-anchor="middle" textLength="15.0" lengthAdjust="spacingAndGlyphs" fill="#151515" stroke="#151515" stroke-width="0.15">48h</text>
<text x="363.20" y="458.80" font-size="8.6" text-anchor="middle" textLength="15.0" lengthAdjust="spacingAndGlyphs" fill="#151515" stroke="#151515" stroke-width="0.15">24h</text>
<text x="432.40" y="458.80" font-size="8.6" text-anchor="middle" textLength="15.0" lengthAdjust="spacingAndGlyphs" fill="#151515" stroke="#151515" stroke-width="0.15">48h</text>
<line x1="39.40" y1="463.90" x2="109.60" y2="463.90" stroke="#444" stroke-width="1.3"/>
<line x1="111.80" y1="463.90" x2="177.30" y2="463.90" stroke="#444" stroke-width="1.3"/>
<line x1="185.70" y1="463.90" x2="254.60" y2="463.90" stroke="#444" stroke-width="1.3"/>
<line x1="256.80" y1="463.90" x2="323.50" y2="463.90" stroke="#444" stroke-width="1.3"/>
<line x1="328.30" y1="463.90" x2="396.60" y2="463.90" stroke="#444" stroke-width="1.3"/>
<line x1="399.30" y1="463.90" x2="466.50" y2="463.90" stroke="#444" stroke-width="1.3"/>
<text x="53.30" y="475.60" font-size="8.4" text-anchor="middle" textLength="10.2" lengthAdjust="spacingAndGlyphs" fill="#151515" stroke="#151515" stroke-width="0.15">NT</text>
<text x="73.80" y="475.60" font-size="8.4" text-anchor="middle" textLength="17.0" lengthAdjust="spacingAndGlyphs" fill="#151515" stroke="#151515" stroke-width="0.15">1 µg</text>
<text x="98.10" y="475.60" font-size="8.4" text-anchor="middle" textLength="17.3" lengthAdjust="spacingAndGlyphs" fill="#151515" stroke="#151515" stroke-width="0.15">5 µg</text>
<text x="121.00" y="475.60" font-size="8.4" text-anchor="middle" textLength="10.2" lengthAdjust="spacingAndGlyphs" fill="#151515" stroke="#151515" stroke-width="0.15">NT</text>
<text x="143.90" y="475.60" font-size="8.4" text-anchor="middle" textLength="17.0" lengthAdjust="spacingAndGlyphs" fill="#151515" stroke="#151515" stroke-width="0.15">1 µg</text>
<text x="167.50" y="475.60" font-size="8.4" text-anchor="middle" textLength="17.3" lengthAdjust="spacingAndGlyphs" fill="#151515" stroke="#151515" stroke-width="0.15">5 µg</text>
<text x="199.10" y="475.60" font-size="8.4" text-anchor="middle" textLength="10.2" lengthAdjust="spacingAndGlyphs" fill="#151515" stroke="#151515" stroke-width="0.15">NT</text>
<text x="220.30" y="475.60" font-size="8.4" text-anchor="middle" textLength="17.0" lengthAdjust="spacingAndGlyphs" fill="#151515" stroke="#151515" stroke-width="0.15">1 µg</text>
<text x="242.40" y="475.60" font-size="8.4" text-anchor="middle" textLength="17.3" lengthAdjust="spacingAndGlyphs" fill="#151515" stroke="#151515" stroke-width="0.15">5 µg</text>
<text x="264.50" y="475.60" font-size="8.4" text-anchor="middle" textLength="10.2" lengthAdjust="spacingAndGlyphs" fill="#151515" stroke="#151515" stroke-width="0.15">NT</text>
<text x="285.90" y="475.60" font-size="8.4" text-anchor="middle" textLength="17.0" lengthAdjust="spacingAndGlyphs" fill="#151515" stroke="#151515" stroke-width="0.15">1 µg</text>
<text x="309.30" y="475.60" font-size="8.4" text-anchor="middle" textLength="17.3" lengthAdjust="spacingAndGlyphs" fill="#151515" stroke="#151515" stroke-width="0.15">5 µg</text>
<text x="341.10" y="475.60" font-size="8.4" text-anchor="middle" textLength="10.2" lengthAdjust="spacingAndGlyphs" fill="#151515" stroke="#151515" stroke-width="0.15">NT</text>
<text x="362.30" y="475.60" font-size="8.4" text-anchor="middle" textLength="17.0" lengthAdjust="spacingAndGlyphs" fill="#151515" stroke="#151515" stroke-width="0.15">1 µg</text>
<text x="385.20" y="475.60" font-size="8.4" text-anchor="middle" textLength="17.3" lengthAdjust="spacingAndGlyphs" fill="#151515" stroke="#151515" stroke-width="0.15">5 µg</text>
<text x="406.50" y="475.60" font-size="8.4" text-anchor="middle" textLength="10.2" lengthAdjust="spacingAndGlyphs" fill="#151515" stroke="#151515" stroke-width="0.15">NT</text>
<text x="427.90" y="475.60" font-size="8.4" text-anchor="middle" textLength="17.0" lengthAdjust="spacingAndGlyphs" fill="#151515" stroke="#151515" stroke-width="0.15">1 µg</text>
<text x="451.30" y="475.60" font-size="8.4" text-anchor="middle" textLength="17.3" lengthAdjust="spacingAndGlyphs" fill="#151515" stroke="#151515" stroke-width="0.15">5 µg</text>
<text x="472.30" y="475.30" font-size="8.8" text-anchor="start" textLength="30.8" lengthAdjust="spacingAndGlyphs" fill="#151515" stroke="#151515" stroke-width="0.15">VLS-101</text>
<rect x="40.60" y="480.90" width="137.90" height="20.70" fill="#f6f6f6" stroke="#747474" stroke-width="1.15" rx="0.6"/>
<rect x="41.70" y="482.00" width="135.70" height="18.50" fill="none" stroke="#fff" stroke-width="0.8" opacity="0.7"/>
<rect x="184.90" y="480.90" width="137.40" height="20.70" fill="#f6f6f6" stroke="#747474" stroke-width="1.15" rx="0.6"/>
<rect x="186.00" y="482.00" width="135.20" height="18.50" fill="none" stroke="#fff" stroke-width="0.8" opacity="0.7"/>
<rect x="327.30" y="480.90" width="138.90" height="20.70" fill="#f6f6f6" stroke="#747474" stroke-width="1.15" rx="0.6"/>
<rect x="328.40" y="482.00" width="136.70" height="18.50" fill="none" stroke="#fff" stroke-width="0.8" opacity="0.7"/>
<rect x="43.80" y="486.20" width="18.00" height="5.80" rx="2.00" fill="#000" opacity="1.0" filter="url(#b1)"/>
<rect x="66.20" y="487.10" width="18.20" height="5.80" rx="2.00" fill="#000" opacity="1.0" filter="url(#b1)"/>
<rect x="89.80" y="487.55" width="17.50" height="5.90" rx="2.00" fill="#000" opacity="1.0" filter="url(#b1)"/>
<rect x="112.00" y="487.45" width="18.90" height="6.30" rx="2.00" fill="#000" opacity="1.0" filter="url(#b1)"/>
<rect x="135.60" y="487.50" width="17.50" height="6.00" rx="2.00" fill="#000" opacity="1.0" filter="url(#b1)"/>
<rect x="158.50" y="486.40" width="17.50" height="6.00" rx="2.00" fill="#000" opacity="1.0" filter="url(#b1)"/>
<rect x="158.50" y="493.80" width="16.50" height="1.60" rx="0.80" fill="#555" opacity="0.8" filter="url(#b1)"/>
<rect x="158.50" y="495.60" width="16.50" height="1.40" rx="0.70" fill="#777" opacity="0.7" filter="url(#b1)"/>
<rect x="188.00" y="486.90" width="16.30" height="4.20" rx="2.00" fill="#000" opacity="1.0" filter="url(#b1)"/>
<rect x="209.80" y="487.70" width="16.40" height="3.60" rx="1.80" fill="#000" opacity="1.0" filter="url(#b1)"/>
<rect x="231.60" y="488.20" width="16.40" height="3.60" rx="1.80" fill="#000" opacity="1.0" filter="url(#b1)"/>
<rect x="254.00" y="486.80" width="17.80" height="4.40" rx="2.00" fill="#000" opacity="1.0" filter="url(#b1)"/>
<rect x="277.30" y="487.70" width="16.40" height="3.60" rx="1.80" fill="#000" opacity="1.0" filter="url(#b1)"/>
<rect x="299.00" y="487.60" width="17.90" height="3.80" rx="1.90" fill="#000" opacity="1.0" filter="url(#b1)"/>
<rect x="188.00" y="493.20" width="16.30" height="2.40" rx="1.20" fill="#c8c8c8" opacity="1.0" filter="url(#b1)"/>
<rect x="209.80" y="493.30" width="16.40" height="2.40" rx="1.20" fill="#888" opacity="1.0" filter="url(#b1)"/>
<rect x="231.60" y="494.20" width="16.40" height="2.60" rx="1.30" fill="#222" opacity="1.0" filter="url(#b1)"/>
<rect x="254.00" y="493.20" width="17.80" height="2.40" rx="1.20" fill="#d0d0d0" opacity="1.0" filter="url(#b1)"/>
<rect x="277.30" y="493.40" width="16.40" height="2.40" rx="1.20" fill="#d0d0d0" opacity="1.0" filter="url(#b1)"/>
<rect x="299.00" y="494.20" width="17.90" height="2.60" rx="1.30" fill="#555" opacity="1.0" filter="url(#b1)"/>
<rect x="331.80" y="487.50" width="19.20" height="4.00" rx="2.00" fill="#000" opacity="1.0" filter="url(#b1)"/>
<rect x="354.50" y="487.10" width="16.50" height="3.80" rx="1.90" fill="#000" opacity="1.0" filter="url(#b1)"/>
<rect x="376.00" y="486.60" width="17.30" height="3.80" rx="1.90" fill="#000" opacity="1.0" filter="url(#b1)"/>
<rect x="398.80" y="486.50" width="16.20" height="4.00" rx="2.00" fill="#000" opacity="1.0" filter="url(#b1)"/>
<rect x="420.60" y="488.20" width="17.80" height="3.60" rx="1.80" fill="#000" opacity="1.0" filter="url(#b1)"/>
<rect x="443.00" y="487.90" width="17.80" height="3.40" rx="1.70" fill="#000" opacity="1.0" filter="url(#b1)"/>
<rect x="331.80" y="492.90" width="19.20" height="2.20" rx="1.10" fill="#c4c4c4" opacity="1.0" filter="url(#b1)"/>
<rect x="354.50" y="493.30" width="16.50" height="2.40" rx="1.20" fill="#777" opacity="1.0" filter="url(#b1)"/>
<rect x="376.00" y="492.70" width="17.30" height="2.60" rx="1.30" fill="#333" opacity="1.0" filter="url(#b1)"/>
<rect x="398.80" y="492.90" width="16.20" height="2.20" rx="1.10" fill="#d4d4d4" opacity="1.0" filter="url(#b1)"/>
<rect x="420.60" y="493.20" width="17.80" height="2.20" rx="1.10" fill="#cfcfcf" opacity="1.0" filter="url(#b1)"/>
<rect x="443.00" y="493.60" width="17.80" height="2.40" rx="1.20" fill="#666" opacity="1.0" filter="url(#b1)"/>
<line x1="468.90" y1="481.10" x2="468.90" y2="501.70" stroke="#777" stroke-width="1.7"/>
<text x="472.60" y="493.80" font-size="10.0" text-anchor="start" textLength="20.2" lengthAdjust="spacingAndGlyphs" fill="#151515" stroke="#151515" stroke-width="0.15">PARP</text>
<rect x="40.60" y="522.00" width="137.90" height="21.10" fill="#f7f7f7" stroke="#747474" stroke-width="1.15" rx="0.6"/>
<rect x="41.70" y="523.10" width="135.70" height="18.90" fill="none" stroke="#fff" stroke-width="0.8" opacity="0.7"/>
<rect x="184.90" y="522.00" width="137.40" height="21.10" fill="#f7f7f7" stroke="#747474" stroke-width="1.15" rx="0.6"/>
<rect x="186.00" y="523.10" width="135.20" height="18.90" fill="none" stroke="#fff" stroke-width="0.8" opacity="0.7"/>
<rect x="327.30" y="522.00" width="138.90" height="21.10" fill="#f7f7f7" stroke="#747474" stroke-width="1.15" rx="0.6"/>
<rect x="328.40" y="523.10" width="136.70" height="18.90" fill="none" stroke="#fff" stroke-width="0.8" opacity="0.7"/>
<rect x="45.00" y="531.50" width="17.00" height="4.60" rx="2.00" fill="#000" opacity="1.0" filter="url(#b1)"/>
<rect x="67.30" y="530.60" width="18.70" height="4.80" rx="2.00" fill="#000" opacity="1.0" filter="url(#b1)"/>
<rect x="92.20" y="530.40" width="17.60" height="5.00" rx="2.00" fill="#000" opacity="1.0" filter="url(#b1)"/>
<rect x="115.20" y="530.70" width="17.20" height="4.80" rx="2.00" fill="#000" opacity="1.0" filter="url(#b1)"/>
<rect x="137.00" y="530.40" width="16.40" height="4.80" rx="2.00" fill="#000" opacity="1.0" filter="url(#b1)"/>
<rect x="157.80" y="529.70" width="16.60" height="4.20" rx="2.00" fill="#000" opacity="1.0" filter="url(#b1)"/>
<rect x="188.90" y="533.40" width="17.80" height="3.60" rx="1.80" fill="#999" opacity="0.85" filter="url(#b2)"/>
<rect x="189.40" y="528.20" width="16.80" height="6.40" rx="2.00" fill="#000" opacity="1.0" filter="url(#b1)"/>
<rect x="211.10" y="533.20" width="18.50" height="3.60" rx="1.80" fill="#999" opacity="0.85" filter="url(#b2)"/>
<rect x="211.60" y="528.00" width="17.50" height="6.40" rx="2.00" fill="#000" opacity="1.0" filter="url(#b1)"/>
<rect x="234.00" y="533.60" width="17.80" height="3.60" rx="1.80" fill="#999" opacity="0.85" filter="url(#b2)"/>
<rect x="234.50" y="528.70" width="16.80" height="5.80" rx="2.00" fill="#2a2a2a" opacity="1.0" filter="url(#b1)"/>
<rect x="256.60" y="533.40" width="17.70" height="3.60" rx="1.80" fill="#999" opacity="0.85" filter="url(#b2)"/>
<rect x="257.10" y="528.20" width="16.70" height="6.40" rx="2.00" fill="#000" opacity="1.0" filter="url(#b1)"/>
<rect x="278.40" y="534.40" width="17.80" height="3.60" rx="1.80" fill="#999" opacity="0.85" filter="url(#b2)"/>
<rect x="278.90" y="529.70" width="16.80" height="5.40" rx="2.00" fill="#333" opacity="1.0" filter="url(#b1)"/>
<rect x="300.00" y="535.00" width="19.10" height="3.60" rx="1.80" fill="#999" opacity="0.85" filter="url(#b2)"/>
<rect x="300.50" y="530.10" width="18.10" height="5.80" rx="2.00" fill="#111" opacity="1.0" filter="url(#b1)"/>
<rect x="330.60" y="533.40" width="19.00" height="3.40" rx="1.70" fill="#aaa" opacity="0.8" filter="url(#b2)"/>
<rect x="331.10" y="528.00" width="18.00" height="7.00" rx="2.00" fill="#000" opacity="1.0" filter="url(#b1)"/>
<rect x="354.40" y="533.30" width="19.90" height="3.40" rx="1.70" fill="#aaa" opacity="0.8" filter="url(#b2)"/>
<rect x="354.90" y="528.40" width="18.90" height="6.00" rx="2.00" fill="#333" opacity="1.0" filter="url(#b1)"/>
<rect x="378.70" y="533.30" width="17.80" height="3.40" rx="1.70" fill="#aaa" opacity="0.8" filter="url(#b2)"/>
<rect x="379.20" y="528.20" width="16.80" height="6.40" rx="2.00" fill="#151515" opacity="1.0" filter="url(#b1)"/>
<rect x="402.20" y="534.30" width="17.90" height="3.40" rx="1.70" fill="#aaa" opacity="0.8" filter="url(#b2)"/>
<rect x="402.70" y="529.50" width="16.90" height="5.80" rx="2.00" fill="#333" opacity="1.0" filter="url(#b1)"/>
<rect x="423.80" y="534.30" width="17.80" height="3.40" rx="1.70" fill="#aaa" opacity="0.8" filter="url(#b2)"/>
<rect x="424.30" y="529.40" width="16.80" height="6.00" rx="2.00" fill="#111" opacity="1.0" filter="url(#b1)"/>
<rect x="445.30" y="534.30" width="18.20" height="3.40" rx="1.70" fill="#aaa" opacity="0.8" filter="url(#b2)"/>
<rect x="445.80" y="529.60" width="17.20" height="5.60" rx="2.00" fill="#444" opacity="1.0" filter="url(#b1)"/>
<rect x="40.60" y="546.60" width="137.90" height="21.20" fill="#cecece" stroke="#747474" stroke-width="1.15" rx="0.6"/>
<rect x="41.70" y="547.70" width="135.70" height="19.00" fill="none" stroke="#fff" stroke-width="0.8" opacity="0.7"/>
<rect x="184.90" y="546.60" width="137.40" height="21.20" fill="#ececec" stroke="#747474" stroke-width="1.15" rx="0.6"/>
<rect x="186.00" y="547.70" width="135.20" height="19.00" fill="none" stroke="#fff" stroke-width="0.8" opacity="0.7"/>
<rect x="327.30" y="546.60" width="138.90" height="21.20" fill="#e6e6e6" stroke="#747474" stroke-width="1.15" rx="0.6"/>
<rect x="328.40" y="547.70" width="136.70" height="19.00" fill="none" stroke="#fff" stroke-width="0.8" opacity="0.7"/>
<defs><filter id="noise" x="0" y="0" width="100%" height="100%"><feTurbulence type="fractalNoise" baseFrequency="0.09 0.2" numOctaves="2" seed="7" result="t"/><feColorMatrix in="t" type="matrix" values="0 0 0 0 0  0 0 0 0 0  0 0 0 0 0  0 0 0 -1.6 0.9"/><feGaussianBlur stdDeviation="0.9"/></filter><clipPath id="cp1"><rect x="41.3" y="547.3" width="136.5" height="19.8"/></clipPath></defs>
<g clip-path="url(#cp1)">
<rect x="41" y="547" width="138" height="21" fill="#000" opacity="0.3" filter="url(#noise)"/>
<rect x="41.00" y="547.05" width="137.00" height="3.50" rx="1.75" fill="#9a9a9a" opacity="0.7" filter="url(#b2)"/>
<rect x="63.5" y="547" width="3.0" height="21" fill="#e6e6e6" opacity="0.5" filter="url(#b2)"/>
<rect x="86.5" y="547" width="4.0" height="21" fill="#e6e6e6" opacity="0.5" filter="url(#b2)"/>
<rect x="110" y="547" width="3.5" height="21" fill="#e6e6e6" opacity="0.5" filter="url(#b2)"/>
<rect x="133" y="547" width="3" height="21" fill="#e6e6e6" opacity="0.5" filter="url(#b2)"/>
<rect x="154.5" y="547" width="2.5" height="21" fill="#e6e6e6" opacity="0.5" filter="url(#b2)"/>
<rect x="93.00" y="553.80" width="15.00" height="5.00" rx="2.00" fill="#3a3a3a" opacity="0.8" filter="url(#b2)"/>
<rect x="95.50" y="554.50" width="9.50" height="3.00" rx="1.50" fill="#111" opacity="0.8" filter="url(#b2)"/>
<rect x="90.00" y="548.75" width="18.00" height="3.50" rx="1.75" fill="#8a8a8a" opacity="0.5" filter="url(#b2)"/>
<rect x="92.00" y="559.75" width="16.00" height="3.50" rx="1.75" fill="#888" opacity="0.5" filter="url(#b2)"/>
<rect x="136.00" y="547.80" width="18.00" height="4.00" rx="2.00" fill="#444" opacity="0.75" filter="url(#b2)"/>
<rect x="137.00" y="554.05" width="17.00" height="4.50" rx="2.00" fill="#666" opacity="0.6" filter="url(#b2)"/>
<rect x="140.00" y="559.00" width="12.00" height="3.00" rx="1.50" fill="#888" opacity="0.5" filter="url(#b2)"/>
<rect x="157.10" y="551.30" width="17.40" height="5.00" rx="2.00" fill="#050505" opacity="1.0" filter="url(#b2)"/>
<rect x="160.50" y="558.90" width="11.50" height="2.80" rx="1.40" fill="#333" opacity="0.85" filter="url(#b2)"/>
<rect x="158.00" y="549.00" width="18.00" height="3.00" rx="1.50" fill="#999" opacity="0.5" filter="url(#b2)"/>
<rect x="68.00" y="559.00" width="16.00" height="4.00" rx="2.00" fill="#999" opacity="0.5" filter="url(#b2)"/>
<rect x="69.00" y="550.50" width="15.00" height="3.00" rx="1.50" fill="#a8a8a8" opacity="0.5" filter="url(#b2)"/>
<rect x="45.00" y="557.00" width="15.00" height="4.00" rx="2.00" fill="#aaa" opacity="0.4" filter="url(#b2)"/>
<rect x="115.00" y="556.50" width="16.00" height="4.00" rx="2.00" fill="#aaa" opacity="0.4" filter="url(#b2)"/>
</g>
<rect x="40.60" y="546.60" width="137.90" height="21.20" fill="none" stroke="#747474" stroke-width="1.15" rx="0.6"/>
<rect x="188.00" y="556.40" width="18.20" height="5.80" rx="2.00" fill="#000" opacity="1.0" filter="url(#b1)"/>
<rect x="209.60" y="557.10" width="19.50" height="5.80" rx="2.00" fill="#000" opacity="1.0" filter="url(#b1)"/>
<rect x="233.10" y="557.40" width="18.20" height="5.20" rx="2.00" fill="#050505" opacity="1.0" filter="url(#b1)"/>
<rect x="255.40" y="558.40" width="18.10" height="4.00" rx="2.00" fill="#8a8a8a" opacity="1.0" filter="url(#b1)"/>
<rect x="277.60" y="558.00" width="17.50" height="4.00" rx="2.00" fill="#6a6a6a" opacity="1.0" filter="url(#b1)"/>
<rect x="298.40" y="557.90" width="18.20" height="5.00" rx="2.00" fill="#1a1a1a" opacity="1.0" filter="url(#b1)"/>
<rect x="188.00" y="551.80" width="18.20" height="2.40" rx="1.20" fill="#cfcfcf" opacity="1.0" filter="url(#b2)"/>
<rect x="233.10" y="551.80" width="18.20" height="2.40" rx="1.20" fill="#cfcfcf" opacity="1.0" filter="url(#b2)"/>
<rect x="330.00" y="558.30" width="18.20" height="3.60" rx="1.80" fill="#333" opacity="1.0" filter="url(#b1)"/>
<rect x="352.90" y="559.00" width="19.50" height="5.40" rx="2.00" fill="#000" opacity="1.0" filter="url(#b1)"/>
<rect x="377.10" y="558.30" width="18.90" height="5.00" rx="2.00" fill="#000" opacity="1.0" filter="url(#b1)"/>
<rect x="401.40" y="558.80" width="16.10" height="3.20" rx="1.60" fill="#999" opacity="1.0" filter="url(#b1)"/>
<rect x="421.60" y="558.20" width="18.10" height="3.60" rx="1.80" fill="#444" opacity="1.0" filter="url(#b1)"/>
<rect x="443.80" y="556.55" width="18.80" height="4.50" rx="2.00" fill="#1a1a1a" opacity="1.0" filter="url(#b1)"/>
<rect x="330.00" y="554.10" width="18.20" height="2.40" rx="1.20" fill="#cfcfcf" opacity="1.0" filter="url(#b1)"/>
<rect x="354.00" y="554.90" width="18.00" height="2.80" rx="1.40" fill="#777" opacity="1.0" filter="url(#b1)"/>
<rect x="377.10" y="554.30" width="18.90" height="2.80" rx="1.40" fill="#7a7a7a" opacity="1.0" filter="url(#b1)"/>
<rect x="421.60" y="554.20" width="18.10" height="2.20" rx="1.10" fill="#c8c8c8" opacity="1.0" filter="url(#b1)"/>
<rect x="443.80" y="552.20" width="18.80" height="2.80" rx="1.40" fill="#777" opacity="1.0" filter="url(#b1)"/>
<line x1="468.90" y1="521.60" x2="468.90" y2="567.80" stroke="#777" stroke-width="1.7"/>
<text x="472.30" y="547.80" font-size="10.0" text-anchor="start" textLength="39.9" lengthAdjust="spacingAndGlyphs" fill="#151515" stroke="#151515" stroke-width="0.15">Caspase-3</text>
<rect x="40.60" y="587.90" width="137.90" height="20.00" fill="#f6f6f6" stroke="#747474" stroke-width="1.15" rx="0.6"/>
<rect x="41.70" y="589.00" width="135.70" height="17.80" fill="none" stroke="#fff" stroke-width="0.8" opacity="0.7"/>
<rect x="184.90" y="587.20" width="137.40" height="21.40" fill="#f6f6f6" stroke="#747474" stroke-width="1.15" rx="0.6"/>
<rect x="186.00" y="588.30" width="135.20" height="19.20" fill="none" stroke="#fff" stroke-width="0.8" opacity="0.7"/>
<rect x="327.30" y="587.00" width="138.90" height="20.20" fill="#f6f6f6" stroke="#747474" stroke-width="1.15" rx="0.6"/>
<rect x="328.40" y="588.10" width="136.70" height="18.00" fill="none" stroke="#fff" stroke-width="0.8" opacity="0.7"/>
<rect x="42.30" y="594.20" width="20.00" height="7.60" rx="3.00" fill="#000" opacity="1.0" filter="url(#b1)"/>
<rect x="65.40" y="594.20" width="20.00" height="7.60" rx="3.00" fill="#000" opacity="1.0" filter="url(#b1)"/>
<rect x="89.00" y="594.20" width="18.80" height="7.60" rx="3.00" fill="#000" opacity="1.0" filter="url(#b1)"/>
<rect x="111.50" y="594.20" width="20.00" height="7.60" rx="3.00" fill="#000" opacity="1.0" filter="url(#b1)"/>
<rect x="133.70" y="594.20" width="19.30" height="7.60" rx="3.00" fill="#000" opacity="1.0" filter="url(#b1)"/>
<rect x="154.60" y="594.20" width="19.40" height="7.60" rx="3.00" fill="#000" opacity="1.0" filter="url(#b1)"/>
<rect x="187.20" y="593.60" width="19.30" height="7.40" rx="3.00" fill="#000" opacity="1.0" filter="url(#b1)"/>
<rect x="209.40" y="593.60" width="19.60" height="7.40" rx="3.00" fill="#000" opacity="1.0" filter="url(#b1)"/>
<rect x="231.90" y="593.60" width="19.60" height="7.40" rx="3.00" fill="#000" opacity="1.0" filter="url(#b1)"/>
<rect x="254.40" y="593.80" width="19.30" height="7.40" rx="3.00" fill="#000" opacity="1.0" filter="url(#b1)"/>
<rect x="277.40" y="595.30" width="17.90" height="7.40" rx="3.00" fill="#000" opacity="1.0" filter="url(#b1)"/>
<rect x="299.60" y="596.30" width="19.30" height="7.40" rx="3.00" fill="#000" opacity="1.0" filter="url(#b1)"/>
<rect x="330.40" y="595.00" width="20.60" height="8.40" rx="3.20" fill="#000" opacity="1.0" filter="url(#b1)"/>
<rect x="354.60" y="595.00" width="20.80" height="8.40" rx="3.20" fill="#000" opacity="1.0" filter="url(#b1)"/>
<rect x="377.00" y="595.00" width="20.90" height="8.40" rx="3.20" fill="#000" opacity="1.0" filter="url(#b1)"/>
<rect x="400.30" y="595.00" width="20.70" height="8.40" rx="3.20" fill="#000" opacity="1.0" filter="url(#b1)"/>
<rect x="423.00" y="595.00" width="20.90" height="8.40" rx="3.20" fill="#000" opacity="1.0" filter="url(#b1)"/>
<rect x="445.30" y="595.00" width="19.30" height="8.40" rx="3.20" fill="#000" opacity="1.0" filter="url(#b1)"/>
<line x1="468.90" y1="587.00" x2="468.90" y2="607.20" stroke="#777" stroke-width="1.7"/>
<text x="472.20" y="600.60" font-size="10.0" text-anchor="start" textLength="19.8" lengthAdjust="spacingAndGlyphs" fill="#151515" stroke="#151515" stroke-width="0.15">Actin</text>
<text x="53.50" y="512.00" font-size="9.6" text-anchor="middle" textLength="4.0" lengthAdjust="spacingAndGlyphs" fill="#151515" stroke="#151515" stroke-width="0.15">1</text>
<text x="74.10" y="512.00" font-size="9.6" text-anchor="middle" textLength="16.5" lengthAdjust="spacingAndGlyphs" fill="#151515" stroke="#151515" stroke-width="0.15">1.27</text>
<text x="98.00" y="512.00" font-size="9.6" text-anchor="middle" textLength="16.5" lengthAdjust="spacingAndGlyphs" fill="#151515" stroke="#151515" stroke-width="0.15">1.50</text>
<text x="122.20" y="512.00" font-size="9.6" text-anchor="middle" textLength="4.0" lengthAdjust="spacingAndGlyphs" fill="#151515" stroke="#151515" stroke-width="0.15">1</text>
<text x="144.90" y="512.00" font-size="9.6" text-anchor="middle" textLength="16.5" lengthAdjust="spacingAndGlyphs" fill="#151515" stroke="#151515" stroke-width="0.15">1.13</text>
<text x="167.00" y="512.00" font-size="9.6" text-anchor="middle" textLength="16.5" lengthAdjust="spacingAndGlyphs" fill="#151515" stroke="#151515" stroke-width="0.15">1.92</text>
<text x="195.20" y="512.00" font-size="9.6" text-anchor="middle" textLength="4.0" lengthAdjust="spacingAndGlyphs" fill="#151515" stroke="#151515" stroke-width="0.15">1</text>
<text x="216.00" y="512.00" font-size="9.6" text-anchor="middle" textLength="16.5" lengthAdjust="spacingAndGlyphs" fill="#151515" stroke="#151515" stroke-width="0.15">1.46</text>
<text x="240.50" y="512.00" font-size="9.6" text-anchor="middle" textLength="16.5" lengthAdjust="spacingAndGlyphs" fill="#151515" stroke="#151515" stroke-width="0.15">1.60</text>
<text x="263.70" y="512.00" font-size="9.6" text-anchor="middle" textLength="4.0" lengthAdjust="spacingAndGlyphs" fill="#151515" stroke="#151515" stroke-width="0.15">1</text>
<text x="287.40" y="512.00" font-size="9.6" text-anchor="middle" textLength="16.5" lengthAdjust="spacingAndGlyphs" fill="#151515" stroke="#151515" stroke-width="0.15">1.49</text>
<text x="309.60" y="512.00" font-size="9.6" text-anchor="middle" textLength="16.5" lengthAdjust="spacingAndGlyphs" fill="#151515" stroke="#151515" stroke-width="0.15">6.04</text>
<text x="340.40" y="512.00" font-size="9.6" text-anchor="middle" textLength="4.0" lengthAdjust="spacingAndGlyphs" fill="#151515" stroke="#151515" stroke-width="0.15">1</text>
<text x="360.80" y="512.00" font-size="9.6" text-anchor="middle" textLength="16.5" lengthAdjust="spacingAndGlyphs" fill="#151515" stroke="#151515" stroke-width="0.15">2.52</text>
<text x="384.70" y="512.00" font-size="9.6" text-anchor="middle" textLength="16.5" lengthAdjust="spacingAndGlyphs" fill="#151515" stroke="#151515" stroke-width="0.15">2.84</text>
<text x="409.10" y="512.00" font-size="9.6" text-anchor="middle" textLength="4.0" lengthAdjust="spacingAndGlyphs" fill="#151515" stroke="#151515" stroke-width="0.15">1</text>
<text x="431.90" y="512.00" font-size="9.6" text-anchor="middle" textLength="16.5" lengthAdjust="spacingAndGlyphs" fill="#151515" stroke="#151515" stroke-width="0.15">1.30</text>
<text x="453.80" y="512.00" font-size="9.6" text-anchor="middle" textLength="16.5" lengthAdjust="spacingAndGlyphs" fill="#151515" stroke="#151515" stroke-width="0.15">2.31</text>
<text x="52.70" y="577.00" font-size="9.6" text-anchor="middle" textLength="4.0" lengthAdjust="spacingAndGlyphs" fill="#151515" stroke="#151515" stroke-width="0.15">1</text>
<text x="75.00" y="577.00" font-size="9.6" text-anchor="middle" textLength="16.5" lengthAdjust="spacingAndGlyphs" fill="#151515" stroke="#151515" stroke-width="0.15">1.51</text>
<text x="98.30" y="577.00" font-size="9.6" text-anchor="middle" textLength="16.5" lengthAdjust="spacingAndGlyphs" fill="#151515" stroke="#151515" stroke-width="0.15">1.80</text>
<text x="120.90" y="577.00" font-size="9.6" text-anchor="middle" textLength="4.0" lengthAdjust="spacingAndGlyphs" fill="#151515" stroke="#151515" stroke-width="0.15">1</text>
<text x="143.80" y="577.00" font-size="9.6" text-anchor="middle" textLength="16.5" lengthAdjust="spacingAndGlyphs" fill="#151515" stroke="#151515" stroke-width="0.15">1.32</text>
<text x="166.40" y="577.00" font-size="9.6" text-anchor="middle" textLength="16.5" lengthAdjust="spacingAndGlyphs" fill="#151515" stroke="#151515" stroke-width="0.15">1.84</text>
<text x="196.30" y="577.00" font-size="9.6" text-anchor="middle" textLength="4.0" lengthAdjust="spacingAndGlyphs" fill="#151515" stroke="#151515" stroke-width="0.15">1</text>
<text x="217.70" y="577.00" font-size="9.6" text-anchor="middle" textLength="16.5" lengthAdjust="spacingAndGlyphs" fill="#151515" stroke="#151515" stroke-width="0.15">1.52</text>
<text x="241.30" y="577.00" font-size="9.6" text-anchor="middle" textLength="16.5" lengthAdjust="spacingAndGlyphs" fill="#151515" stroke="#151515" stroke-width="0.15">1.58</text>
<text x="264.00" y="577.00" font-size="9.6" text-anchor="middle" textLength="4.0" lengthAdjust="spacingAndGlyphs" fill="#151515" stroke="#151515" stroke-width="0.15">1</text>
<text x="284.70" y="577.00" font-size="9.6" text-anchor="middle" textLength="16.5" lengthAdjust="spacingAndGlyphs" fill="#151515" stroke="#151515" stroke-width="0.15">1.30</text>
<text x="308.00" y="577.00" font-size="9.6" text-anchor="middle" textLength="16.5" lengthAdjust="spacingAndGlyphs" fill="#151515" stroke="#151515" stroke-width="0.15">2.47</text>
<text x="340.40" y="577.00" font-size="9.6" text-anchor="middle" textLength="4.0" lengthAdjust="spacingAndGlyphs" fill="#151515" stroke="#151515" stroke-width="0.15">1</text>
<text x="362.50" y="577.00" font-size="9.6" text-anchor="middle" textLength="16.5" lengthAdjust="spacingAndGlyphs" fill="#151515" stroke="#151515" stroke-width="0.15">2.45</text>
<text x="386.00" y="577.00" font-size="9.6" text-anchor="middle" textLength="16.5" lengthAdjust="spacingAndGlyphs" fill="#151515" stroke="#151515" stroke-width="0.15">2.64</text>
<text x="409.10" y="577.00" font-size="9.6" text-anchor="middle" textLength="4.0" lengthAdjust="spacingAndGlyphs" fill="#151515" stroke="#151515" stroke-width="0.15">1</text>
<text x="429.00" y="577.00" font-size="9.6" text-anchor="middle" textLength="16.5" lengthAdjust="spacingAndGlyphs" fill="#151515" stroke="#151515" stroke-width="0.15">1.93</text>
<text x="453.40" y="577.00" font-size="9.6" text-anchor="middle" textLength="16.5" lengthAdjust="spacingAndGlyphs" fill="#151515" stroke="#151515" stroke-width="0.15">3.33</text>
<text x="29.70" y="490.70" font-size="8.9" text-anchor="end" textLength="8.6" lengthAdjust="spacingAndGlyphs" fill="#151515" stroke="#151515" stroke-width="0.15">FL</text>
<path d="M33.0,486.00 L38.2,488.70 L33.0,491.40 Z" fill="#111"/>
<text x="29.70" y="497.30" font-size="8.9" text-anchor="end" textLength="10.0" lengthAdjust="spacingAndGlyphs" fill="#151515" stroke="#151515" stroke-width="0.15">CL</text>
<path d="M33.0,492.30 L38.2,495.00 L33.0,497.70 Z" fill="#111"/>
<text x="29.70" y="536.70" font-size="8.9" text-anchor="end" textLength="8.6" lengthAdjust="spacingAndGlyphs" fill="#151515" stroke="#151515" stroke-width="0.15">FL</text>
<path d="M33.0,531.50 L38.2,534.20 L33.0,536.90 Z" fill="#111"/>
<text x="29.70" y="556.60" font-size="8.9" text-anchor="end" textLength="10.0" lengthAdjust="spacingAndGlyphs" fill="#151515" stroke="#151515" stroke-width="0.15">CL</text>
<path d="M33.0,551.40 L38.2,554.10 L33.0,556.80 Z" fill="#111"/>
<text x="29.70" y="564.00" font-size="8.9" text-anchor="end" textLength="10.0" lengthAdjust="spacingAndGlyphs" fill="#151515" stroke="#151515" stroke-width="0.15">CL</text>
<path d="M33.0,558.90 L38.2,561.60 L33.0,564.30 Z" fill="#111"/>
<rect x="0.5" y="0.5" width="519" height="618" fill="none" stroke="#2a2a2a" stroke-width="1"/>
</svg></body></html>
